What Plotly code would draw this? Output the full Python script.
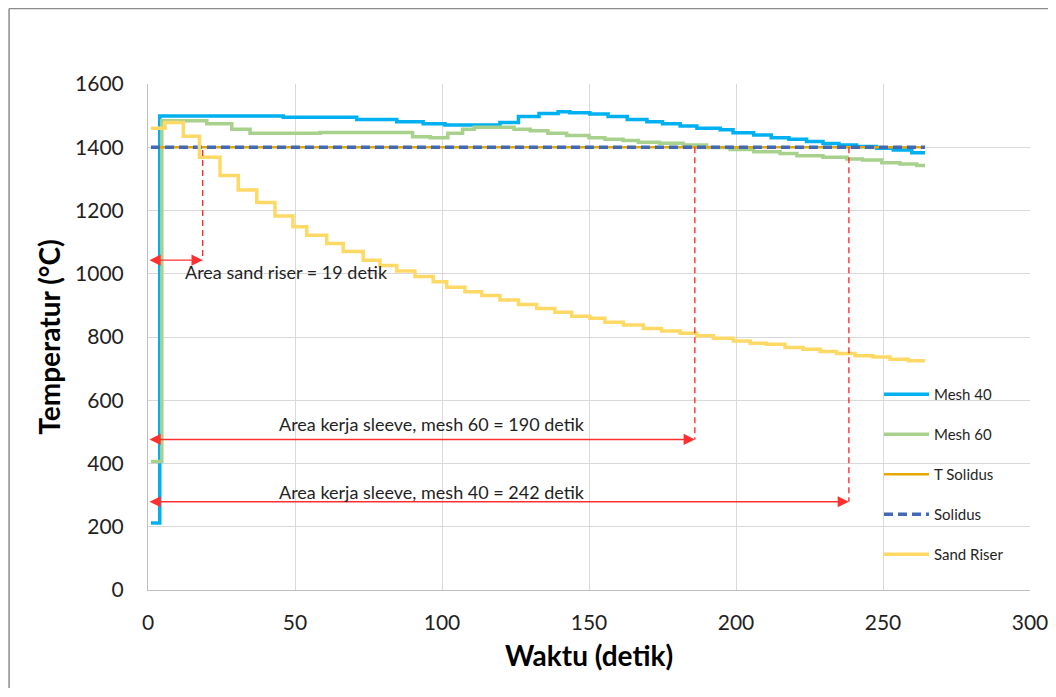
import plotly.graph_objects as go

# ---------------- data ----------------
mesh40_t = [1, 4, 46, 71, 84.6, 93.6, 101, 119.7, 126, 133, 139.5, 143.5, 150.3, 156.5, 163,
            169.7, 175, 181, 186.7, 194.6, 199, 206, 212, 218, 224, 229.6, 235, 241, 247.8,
            253.5, 259.8, 264.3]
mesh40_T = [212, 1499, 1495, 1488, 1481, 1474, 1470, 1478, 1497, 1507, 1512, 1509, 1505, 1497, 1488,
            1481, 1474, 1467, 1460, 1455, 1446, 1439, 1430, 1425, 1418, 1412, 1407, 1402, 1397,
            1391, 1383, 1383]

mesh60_t = [1, 4.7, 20, 28.5, 34.7, 58.5, 90, 96, 102, 107, 111, 124.5, 130, 136, 142.4, 150,
            155.4, 161.6, 166.8, 174, 182, 190, 198, 206, 215, 220.7, 229.6, 237.7, 243, 249.6,
            255.8, 261.5, 264.3]
mesh60_T = [406, 1484, 1474, 1457, 1444, 1447, 1433, 1430, 1444, 1457, 1463, 1457, 1452, 1444, 1437, 1430,
            1425, 1421, 1416, 1413, 1407, 1399, 1393, 1386, 1380, 1373, 1368, 1363, 1360, 1351,
            1347, 1342, 1342]

sand_t = [1, 5.8, 12, 17.5, 24.5, 30.7, 37, 43.2, 49.3, 54, 60.8, 66.4, 73.2, 78.9, 84.6, 90.8,
          97, 101.6, 107.8, 113.5, 119.7, 126, 132.2, 138.4, 144.1, 150.3, 155.4, 161.7, 168.5,
          174.7, 181, 186.6, 192.3, 199.1, 204.8, 210.4, 216.7, 222.8, 228.6, 234.2, 240.5,
          246.6, 252.4, 258.6, 264.3]
sand_T = [1460, 1478, 1435, 1368, 1311, 1265, 1225, 1183, 1149, 1122, 1096, 1070, 1043, 1026, 1009, 991,
          975, 957, 943, 931, 917, 903, 890, 878, 866, 859, 847, 838, 827,
          819, 812, 804, 796, 787, 780, 777, 767, 761, 754, 748, 741,
          737, 730, 725, 725]

solidus_t = [1, 264.3]
solidus_T = [1400, 1400]

# annotation data (working-area markers)
marker_labels = ["Area sand riser = 19 detik",
                 "Area kerja sleeve, mesh 60 = 190 detik",
                 "Area kerja sleeve, mesh 40 = 242 detik"]
marker_end_t = [18.6, 186, 238.4]          # time where dashed drop line sits
marker_top_T = [1391, 1400, 1400]          # top of dashed drop line
marker_arrow_T = [1043, 476, 279]          # level of the double arrow
label_t = [11.9, 43.8, 43.8]
label_T = [1005, 525, 311]

x_ticks = [0, 50, 100, 150, 200, 250, 300]
y_ticks = [0, 200, 400, 600, 800, 1000, 1200, 1400, 1600]

FONT = "Lato"
TXT = "#1f1f1f"

fig = go.Figure()
fig.add_trace(go.Scatter(x=mesh40_t, y=mesh40_T, name="Mesh 40", mode="lines", line_shape="hv",
                         line=dict(color="#00B0F0", width=3.5), legendgroup="a"))
fig.add_trace(go.Scatter(x=mesh60_t, y=mesh60_T, name="Mesh 60", mode="lines", line_shape="hv",
                         line=dict(color="#A9D18E", width=3.5), legendgroup="b"))
fig.add_trace(go.Scatter(x=solidus_t, y=solidus_T, name="T Solidus", mode="lines",
                         line=dict(color="#E6A800", width=2.5), legendgroup="c"))
fig.add_trace(go.Scatter(x=solidus_t, y=solidus_T, name="Solidus", mode="lines",
                         line=dict(color="#4169B4", width=3.5, dash="9px,5px"), legendgroup="d"))
fig.add_trace(go.Scatter(x=sand_t, y=sand_T, name="Sand Riser", mode="lines", line_shape="hv",
                         line=dict(color="#FFD966", width=3.5), legendgroup="e"))

shapes = []
annotations = []
for lab, te, tt, ta, lt, lT in zip(marker_labels, marker_end_t, marker_top_T, marker_arrow_T, label_t, label_T):
    shapes.append(dict(type="line", xref="x", yref="y", x0=te, x1=te, y0=tt, y1=ta,
                       line=dict(color="#FF2020", width=1.3, dash="6px,4px")))
    annotations.append(dict(x=te, y=ta, ax=0, ay=ta, xref="x", yref="y", axref="x", ayref="y",
                            text="", showarrow=True, arrowhead=2, arrowsize=1.6, arrowwidth=1.4,
                            arrowside="end+start", startarrowhead=2, startarrowsize=1.6,
                            arrowcolor="#FF3030", standoff=0, startstandoff=0))
    annotations.append(dict(x=lt, y=lT, xref="x", yref="y", text=lab, showarrow=False,
                            xanchor="left", yanchor="middle",
                            font=dict(family=FONT, size=18, color=TXT)))

# white backing behind the legend (hides gridlines there)
shapes.append(dict(type="rect", xref="paper", yref="paper", layer="between",
                   x0=0.8107, x1=0.9898, y0=0.0296, y1=0.4289,
                   fillcolor="white", line=dict(width=0)))

# outer chart frame (left and top edge)
shapes.append(dict(type="line", xref="paper", yref="paper", x0=-0.1575, x1=-0.1575, y0=1.149, y1=-0.25,
                   line=dict(color="#8c8c8c", width=1.5)))
shapes.append(dict(type="line", xref="paper", yref="paper", x0=-0.1575, x1=1.08, y0=1.149, y1=1.149,
                   line=dict(color="#8c8c8c", width=1.5)))

fig.update_layout(
    width=1040, height=680,
    margin=dict(l=140, r=18, t=76, b=98, autoexpand=False),
    paper_bgcolor="white", plot_bgcolor="white",
    font=dict(family=FONT, color=TXT),
    shapes=shapes, annotations=annotations,
    legend=dict(x=0.8288, y=0.419, xanchor="left", yanchor="top",
                bgcolor="rgba(255,255,255,0)", font=dict(family=FONT, size=15, color=TXT),
                itemwidth=45, tracegroupgap=17.5, traceorder="grouped"),
    xaxis=dict(range=[0, 300], tickvals=x_ticks, showgrid=True, gridcolor="#D9D9D9", gridwidth=1,
               showline=True, linecolor="#BFBFBF", linewidth=1, zeroline=False,
               tickfont=dict(family=FONT, size=21, color=TXT), ticks="", ticklabelstandoff=14,
               ticklabeloverflow="allow", automargin=False,
               title=dict(text="<b>Waktu (detik)</b>", font=dict(family=FONT, size=28, color="black"),
                          standoff=13)),
    yaxis=dict(range=[0, 1600], tickvals=y_ticks, showgrid=True, gridcolor="#D9D9D9", gridwidth=1,
               showline=True, linecolor="#BFBFBF", linewidth=1, zeroline=False,
               tickfont=dict(family=FONT, size=21, color=TXT), ticks="", ticklabelstandoff=19,
               automargin=False,
               title=dict(text="<b>Temperatur (°C)</b>", font=dict(family=FONT, size=28, color="black"),
                          standoff=6)),
)

fig.write_html("out.html")
